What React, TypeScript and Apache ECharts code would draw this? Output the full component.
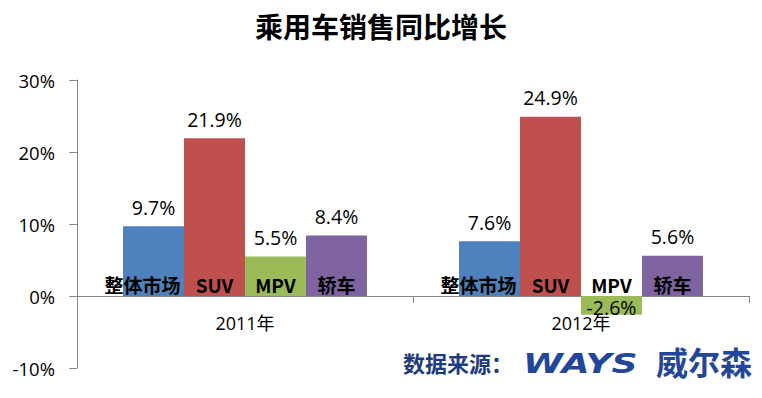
import React, { useEffect, useRef } from "react";
import * as echarts from "echarts";

const categories = ["2011年", "2012年"];
const seriesNames = ["整体市场", "SUV", "MPV", "轿车"];
const overall = [9.7, 7.6];
const suv = [21.9, 24.9];
const mpv = [5.5, -2.6];
const sedan = [8.4, 5.6];
const yTicks = [-10, 0, 10, 20, 30];
const colors = ["#4F81BD", "#C0504D", "#9BBB59", "#8064A2"];

const NUM_FONT = "'Open Sans', 'Noto Sans CJK SC', sans-serif";
const CJK_FONT = "'Noto Sans CJK SC', sans-serif";

export default function App() {
  const ref = useRef<HTMLDivElement>(null);
  useEffect(() => {
    if (!ref.current) return;
    const chart = echarts.init(ref.current, undefined, { renderer: "svg" });
    const values = [overall, suv, mpv, sedan];
    const series: any[] = [];
    values.forEach((vals, i) => {
      // zero-height bar carrying the series name label just above the axis
      series.push({
        type: "bar",
        name: seriesNames[i] + "_label",
        stack: "s" + i,
        data: categories.map(() => 0),
        itemStyle: { color: "transparent" },
        silent: true,
        label: {
          show: true,
          position: "top",
          distance: 2,
          offset: i === 0 ? [-11, 0] : [0, 0],
          formatter: () => seriesNames[i],
          fontFamily: CJK_FONT,
          fontWeight: "bold",
          fontSize: 19,
          color: "#000",
        },
      });
      series.push({
        type: "bar",
        name: seriesNames[i],
        stack: "s" + i,
        data: vals.map((v) =>
          v < 0
            ? { value: v, label: { position: "insideBottom", distance: -3 } }
            : { value: v }
        ),
        itemStyle: { color: colors[i] },
        barCategoryGap: "27.4%",
        barGap: "0%",
        label: {
          show: true,
          position: "top",
          distance: 9,
          formatter: (p: any) => p.value.toFixed(1) + "%",
          fontFamily: NUM_FONT,
          fontSize: 19.5,
          color: "#000",
        },
      });
    });

    chart.setOption({
      animation: false,
      backgroundColor: "#fff",
      title: {
        text: "乘用车销售同比增长",
        left: "center",
        top: 7,
        textStyle: {
          fontFamily: CJK_FONT,
          fontSize: 28,
          fontWeight: "bold",
          color: "#000",
        },
      },
      grid: { left: 77, right: 13, top: 80, bottom: 30, containLabel: false },
      xAxis: {
        type: "category",
        data: categories,
        axisLine: { onZero: true, lineStyle: { color: "#868686", width: 1 } },
        axisTick: { show: true, length: 7, lineStyle: { color: "#868686" } },
        axisLabel: {
          margin: -54,
          fontFamily: NUM_FONT,
          fontSize: 18,
          color: "#000",
        },
      },
      yAxis: {
        type: "value",
        min: yTicks[0],
        max: yTicks[yTicks.length - 1],
        interval: 10,
        axisLine: { show: true, lineStyle: { color: "#868686" } },
        axisTick: { show: true, length: 8, lineStyle: { color: "#868686" } },
        splitLine: { show: false },
        axisLabel: {
          margin: 22,
          formatter: (v: number) => v + "%",
          fontFamily: NUM_FONT,
          fontSize: 18.5,
          color: "#000",
        },
      },
      series,
      graphic: [
        {
          type: "text",
          left: 403,
          top: 351,
          style: {
            text: "数据来源：",
            fontFamily: CJK_FONT,
            fontSize: 22,
            fontWeight: "bold",
            fill: "#1F3B80",
          },
        },
        {
          type: "text",
          x: 523,
          y: 350,
          scaleX: 1.34,
          style: {
            text: "WAYS",
            fontFamily: "'DejaVu Sans', sans-serif",
            fontSize: 27,
            fontWeight: 900,
            fontStyle: "italic",
            fill: "#24469A",
          },
        },
        {
          type: "text",
          left: 656,
          top: 345,
          style: {
            text: "威尔森",
            fontFamily: CJK_FONT,
            fontSize: 32,
            fontWeight: "bold",
            fill: "#24469A",
          },
        },
      ],
    });
    return () => chart.dispose();
  }, []);
  return <div ref={ref} style={{ width: 762, height: 398, position: "absolute", left: 0, top: 0 }} />;
}
